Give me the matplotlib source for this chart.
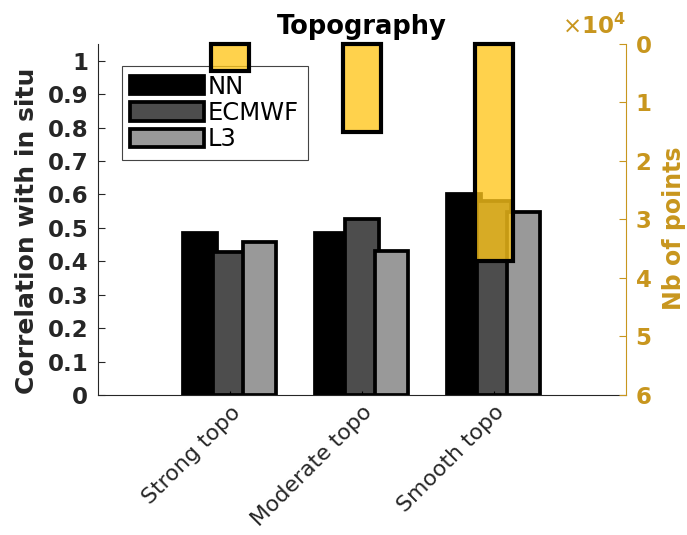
import numpy as np
import matplotlib
matplotlib.use('Agg')
import matplotlib.pyplot as plt
from matplotlib.colors import to_rgba
from matplotlib.ticker import FuncFormatter

categories = ['Strong topo', 'Moderate topo', 'Smooth topo']
series_names = ['NN', 'ECMWF', 'L3']
nn = [0.485, 0.485, 0.602]
ecmwf = [0.428, 0.525, 0.581]
l3 = [0.457, 0.430, 0.548]
nb_points = [4700, 15000, 37100]

grays = ['#000000', '#4d4d4d', '#999999']
gold = '#C8961E'
yellow = to_rgba('#FFC61A', 0.78)

plt.rcParams['font.family'] = 'DejaVu Sans'

fig = plt.figure(figsize=(6.87, 5.35), dpi=100)
ax = fig.add_axes([0.1426, 0.2617, 0.7685, 0.6561])
x = np.arange(1, len(categories) + 1)

w = 0.255
offsets = [-0.225, 0.0, 0.225]
for vals, off, col, name in zip([nn, ecmwf, l3], offsets, grays, series_names):
    ax.bar(x + off, vals, w, color=col, edgecolor='black', linewidth=2.7, label=name)

ax.set_xlim(0, 4)
ax.set_ylim(0, 1.05)
ax.set_yticks(np.arange(0, 1.01, 0.1))
ax.yaxis.set_major_formatter(FuncFormatter(lambda v, p: f'{v:g}'))
ax.set_xticks(x)
ax.set_xticklabels(categories, rotation=45, ha='right', va='top',
                   rotation_mode='anchor', fontsize=15.8, color='#262626')
ax.tick_params(axis='x', direction='in', length=3, pad=5)
ax.tick_params(axis='y', direction='in', length=5, pad=7, labelsize=16.5,
               colors='#262626')
for lab in ax.get_yticklabels():
    lab.set_fontweight('bold')
ax.spines['top'].set_visible(False)
ax.spines['right'].set_visible(False)
ax.spines['left'].set_color('#262626')
ax.spines['bottom'].set_color('#262626')
ax.set_ylabel('Correlation with in situ', fontsize=18, fontweight='bold',
              color='#262626')
ax.yaxis.set_label_coords(-0.112, 0.467)
ax.set_title('Topography', fontsize=18.5, fontweight='bold', pad=7)

leg = ax.legend(loc='upper left', bbox_to_anchor=(0.045, 0.937), borderaxespad=0,
                fontsize=17.5, handlelength=3.05, handleheight=0.8, handletextpad=0.15,
                labelspacing=0.1, borderpad=0.35, fancybox=False, framealpha=1,
                edgecolor='#444444')
leg.get_frame().set_linewidth(0.8)

ax2 = ax.twinx()
ax2.bar(x, nb_points, 0.29, facecolor=yellow, edgecolor='black',
        linewidth=3, clip_on=False)
ax2.set_ylim(60000, 0)
ax2.set_yticks(np.arange(0, 60001, 10000))
ax2.yaxis.set_major_formatter(FuncFormatter(lambda v, p: f'{v / 1e4:g}'))
ax2.tick_params(axis='y', direction='in', length=5, pad=7, labelsize=16.5,
                colors=gold)
for lab in ax2.get_yticklabels():
    lab.set_fontweight('bold')
for s in ['top', 'left', 'bottom']:
    ax2.spines[s].set_visible(False)
ax2.spines['right'].set_color(gold)
ax2.set_ylabel('Nb of points', fontsize=17, fontweight='bold', color=gold)
ax2.yaxis.set_label_coords(1.068, 0.476)
ax2.annotate(r'$\times$$\mathbf{10^{4}}$', xy=(1, 1), xycoords='axes fraction',
             xytext=(0, 4), textcoords='offset points', ha='right', va='bottom',
             fontsize=16.5, color=gold)

fig.savefig('out.png', dpi=100)
